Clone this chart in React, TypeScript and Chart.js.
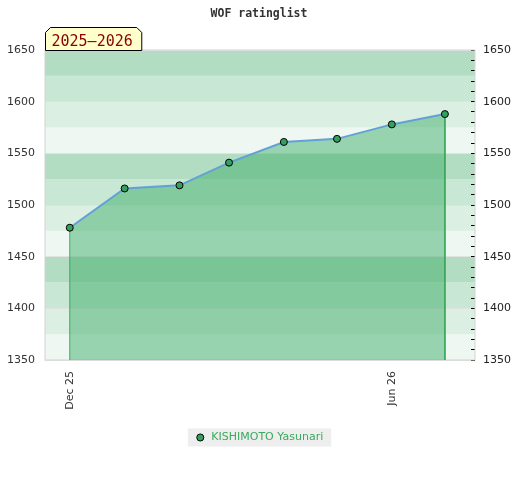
import { useEffect, useRef } from "react";
import { Chart, registerables } from "chart.js";

Chart.register(...registerables);

// ---- data ----
const chartTitle = "WOF ratinglist";
const seasonLabel = "2025–2026";
const playerName = "KISHIMOTO Yasunari";
const monthDates = [
  "2025-12-01",
  "2026-01-01",
  "2026-02-01",
  "2026-03-01",
  "2026-04-01",
  "2026-05-01",
  "2026-06-01",
  "2026-07-01",
];
const ratings = [1478, 1516, 1519, 1541, 1561, 1564, 1578, 1588];
const xTickDates = ["2025-12-01", "2026-06-01"];
const xTickLabels = ["Dec 25", "Jun 26"];
const xRange = ["2025-11-17", "2026-07-18"];
const yRange = [1350, 1650];
const yLabelStep = 50;
const yMinorStep = 10;
const bandStep = 25;

// ---- styles ----
const BAND_COLORS = ["#eef7f1", "#dcefe3", "#c8e7d4", "#b3ddc2"];
const LINE_BLUE = "#62a0d8";
const EDGE_GREEN = "#3aa85a";
const POINT_GREEN = "#33a060";
const FILL = "rgba(59,172,102,0.48)";
const LEGEND_GREEN = "#3aaa5c";

const DAY = 86400000;
const dayNum = (s: string) => Date.parse(s) / DAY;

const decorPlugin = {
  id: "decor",
  beforeDraw(chart: any) {
    const { ctx, chartArea: a, scales } = chart;
    const y = scales.y;
    ctx.save();
    let i = 0;
    for (let v = yRange[0]; v < yRange[1]; v += bandStep, i++) {
      const top = y.getPixelForValue(v + bandStep);
      const bot = y.getPixelForValue(v);
      ctx.fillStyle = BAND_COLORS[i % BAND_COLORS.length];
      ctx.fillRect(a.left, top, a.right - a.left, bot - top);
    }
    const lg = chart.legend;
    if (lg && lg.legendHitBoxes && lg.legendHitBoxes.length) {
      const hb = lg.legendHitBoxes[0];
      const cy = hb.top + hb.height / 2;
      ctx.fillStyle = "#eeeeee";
      ctx.fillRect(hb.left - 7, cy - 9, hb.width + 15, 18);
    }
    ctx.restore();
  },
  beforeDatasetsDraw(chart: any) {
    const { ctx, chartArea: a } = chart;
    ctx.save();
    ctx.strokeStyle = "#d4d4d4";
    ctx.lineWidth = 1;
    ctx.strokeRect(a.left, a.top, a.right - a.left, a.bottom - a.top);
    ctx.restore();
  },
  afterDraw(chart: any) {
    const { ctx, chartArea: a } = chart;
    ctx.save();
    ctx.font = "15px 'DejaVu Sans Mono'";
    const tw = ctx.measureText(seasonLabel).width;
    const left = a.left + 0.5;
    const right = left + tw + 15;
    const bottom = a.top + 0.5;
    const top = bottom - 23;
    const bev = 5;
    ctx.beginPath();
    ctx.moveTo(left, bottom);
    ctx.lineTo(left, top + bev);
    ctx.lineTo(left + bev, top);
    ctx.lineTo(right - bev, top);
    ctx.lineTo(right, top + bev);
    ctx.lineTo(right, bottom);
    ctx.closePath();
    ctx.fillStyle = "#ffffcc";
    ctx.fill();
    ctx.strokeStyle = "#000";
    ctx.lineWidth = 1;
    ctx.stroke();
    ctx.fillStyle = "#8b0000";
    ctx.textBaseline = "alphabetic";
    ctx.textAlign = "left";
    ctx.fillText(seasonLabel, left + 6, bottom - 5);
    ctx.restore();
  },
};

export default function App() {
  const ref = useRef<HTMLCanvasElement | null>(null);

  useEffect(() => {
    if (!ref.current) return;
    Chart.defaults.font.family = "'DejaVu Sans'";
    Chart.defaults.font.size = 11;
    Chart.defaults.color = "#333";

    const xs = monthDates.map(dayNum);
    const n = xs.length;
    const pts = [
      { x: xs[0], y: yRange[0] },
      ...xs.map((x, i) => ({ x, y: ratings[i] })),
      { x: xs[n - 1], y: yRange[0] },
    ];
    const last = pts.length - 1;
    const isEdge = (c: any) => c.p0DataIndex === 0 || c.p1DataIndex === last;

    const chart = new Chart(ref.current, {
      type: "line",
      data: {
        datasets: [
          {
            label: playerName,
            data: pts,
            borderColor: LINE_BLUE,
            borderWidth: 2,
            backgroundColor: FILL,
            fill: "start",
            tension: 0,
            pointRadius: (c: any) => (c.dataIndex === 0 || c.dataIndex === last ? 0 : 3.5),
            pointHoverRadius: 0,
            pointBackgroundColor: POINT_GREEN,
            pointBorderColor: "#000",
            pointBorderWidth: 1,
            segment: {
              borderColor: (c: any) => (isEdge(c) ? EDGE_GREEN : LINE_BLUE),
              borderWidth: (c: any) => (isEdge(c) ? 1 : 2),
            },
          } as any,
        ],
      },
      options: {
        responsive: false,
        animation: false,
        devicePixelRatio: 1,
        layout: { padding: { top: 0, left: 7, right: 9, bottom: 27 } },
        plugins: {
          tooltip: { enabled: false },
          title: {
            display: true,
            text: chartTitle,
            color: "#333",
            font: { family: "'DejaVu Sans Mono'", size: 11.5, weight: "bold" },
            padding: { top: 7, bottom: 29.2 },
          },
          legend: {
            display: true,
            position: "bottom",
            labels: {
              usePointStyle: true,
              pointStyle: "circle",
              boxWidth: 11,
              boxHeight: 5,
              padding: 22,
              color: LEGEND_GREEN,
              font: { family: "'DejaVu Sans'", size: 11 },
            },
          },
        },
        scales: {
          x: {
            type: "linear",
            min: dayNum(xRange[0]),
            max: dayNum(xRange[1]),
            grid: { display: false, drawTicks: false },
            border: { display: false },
            afterBuildTicks: (axis: any) => {
              axis.ticks = xTickDates.map((d) => ({ value: dayNum(d) }));
            },
            afterFit: (axis: any) => {
              axis.height = 50;
            },
            ticks: {
              autoSkip: false,
              minRotation: 90,
              maxRotation: 90,
              padding: 11,
              color: "#333",
              callback: (v: any) => {
                const idx = xTickDates.findIndex((d) => dayNum(d) === v);
                return idx >= 0 ? xTickLabels[idx] : "";
              },
            },
          },
          y: {
            position: "left",
            min: yRange[0],
            max: yRange[1],
            grid: { color: "#e2e2e2", drawTicks: false },
            border: { display: false },
            afterFit: (axis: any) => {
              axis.width = 38;
            },
            ticks: {
              stepSize: yLabelStep,
              padding: 10,
              color: "#333",
              callback: (v: any) => String(v),
            },
          },
          y2: {
            position: "right",
            min: yRange[0],
            max: yRange[1],
            grid: {
              drawOnChartArea: false,
              drawTicks: true,
              tickLength: -4,
              tickColor: "#000",
            },
            border: { display: false },
            afterFit: (axis: any) => {
              axis.width = 36;
            },
            ticks: {
              stepSize: yMinorStep,
              autoSkip: false,
              padding: 12,
              color: "#222",
              callback: (v: any) => (v % yLabelStep === 0 ? String(v) : ""),
            },
          },
        },
      } as any,
      plugins: [decorPlugin],
    });
    return () => chart.destroy();
  }, []);

  return (
    <div style={{ position: "absolute", left: 0, top: 0, width: 520, height: 480, background: "#fff" }}>
      <canvas ref={ref} width={520} height={480} style={{ display: "block" }} />
    </div>
  );
}
